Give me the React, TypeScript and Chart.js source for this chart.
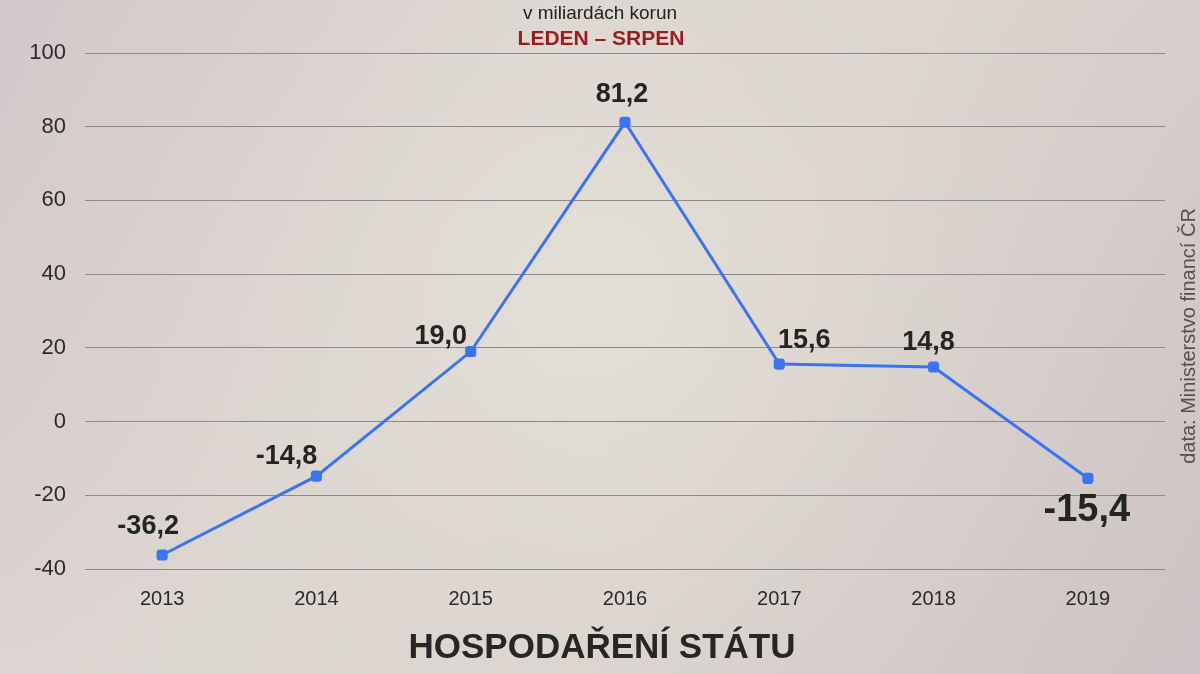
import React, { useEffect, useRef } from "react";
import { Chart, registerables } from "chart.js";

Chart.register(...registerables);

const years = ["2013", "2014", "2015", "2016", "2017", "2018", "2019"];
const balance = [-36.2, -14.8, 19.0, 81.2, 15.6, 14.8, -15.4];
const valueLabels = ["-36,2", "-14,8", "19,0", "81,2", "15,6", "14,8", "-15,4"];
const subtitle = "v miliardách korun";
const period = "LEDEN – SRPEN";
const mainTitle = "HOSPODAŘENÍ STÁTU";
const source = "data: Ministerstvo financí ČR";

// label placement (style): offsets from point in px, and font size
const labelDx = [-14, -30, -30, -3, 25, -5, -1];
const labelDy = [-28, -20, -15, -28, -24, -24, 32];
const labelSize = [27, 27, 27, 27, 27, 27, 38];

const FONT = "'Liberation Sans', Arial, sans-serif";

const decorPlugin = {
  id: "decor",
  beforeDraw(chart: any) {
    const { ctx, width, height } = chart;
    ctx.save();
    const g = ctx.createLinearGradient(0, 0, width, height);
    g.addColorStop(0, "#d4c9cb");
    g.addColorStop(0.35, "#dfdad3");
    g.addColorStop(0.6, "#ddd8d0");
    g.addColorStop(1, "#ccc3c4");
    ctx.fillStyle = g;
    ctx.fillRect(0, 0, width, height);
    const r = ctx.createRadialGradient(width * 0.5, height * 0.45, 50, width * 0.5, height * 0.45, 700);
    r.addColorStop(0, "rgba(230,226,216,0.55)");
    r.addColorStop(1, "rgba(200,190,192,0)");
    ctx.fillStyle = r;
    ctx.fillRect(0, 0, width, height);
    ctx.restore();
  },
  afterDraw(chart: any) {
    const { ctx } = chart;
    ctx.save();
    ctx.textAlign = "center";
    ctx.textBaseline = "middle";
    ctx.fillStyle = "#222";
    ctx.font = `19px ${FONT}`;
    ctx.fillText(subtitle, 600, 14);
    ctx.fillStyle = "#9a1c1c";
    ctx.font = `bold 21px ${FONT}`;
    ctx.fillText(period, 601, 39);
    ctx.fillStyle = "#262626";
    ctx.font = `bold 35px ${FONT}`;
    ctx.fillText(mainTitle, 602, 648);
    ctx.save();
    ctx.translate(1189, 336);
    ctx.rotate(-Math.PI / 2);
    ctx.fillStyle = "#555151";
    ctx.font = `20px ${FONT}`;
    ctx.fillText(source, 0, 0);
    ctx.restore();
    const meta = chart.getDatasetMeta(0);
    meta.data.forEach((pt: any, i: number) => {
      ctx.fillStyle = "#242424";
      ctx.font = `bold ${labelSize[i]}px ${FONT}`;
      ctx.fillText(valueLabels[i], pt.x + labelDx[i], pt.y + labelDy[i]);
    });
    ctx.restore();
  },
};

export default function App() {
  const ref = useRef<HTMLCanvasElement | null>(null);
  useEffect(() => {
    if (!ref.current) return;
    const chart = new Chart(ref.current, {
      type: "line",
      data: {
        labels: years,
        datasets: [
          {
            data: balance,
            borderColor: "#3b74f2",
            backgroundColor: "#3b74f2",
            borderWidth: 3,
            pointStyle: "rectRounded",
            pointRadius: 6.5,
            pointBorderWidth: 0,
            tension: 0,
          },
        ],
      },
      options: {
        animation: false,
        responsive: false,
        devicePixelRatio: 1,
        layout: { padding: { left: 0, right: 35, top: 53, bottom: 0 } },
        plugins: { legend: { display: false }, tooltip: { enabled: false } },
        scales: {
          x: {
            offset: true,
            grid: { display: false, drawTicks: false },
            border: { display: false },
            ticks: { color: "#2a2a2a", font: { family: FONT, size: 20 }, padding: 18 },
            afterFit(scale: any) {
              scale.height = 105;
            },
          },
          y: {
            min: -40,
            max: 100,
            ticks: { stepSize: 20, color: "#2a2a2a", font: { family: FONT, size: 22 }, padding: 19 },
            grid: { color: "#8f8a86", lineWidth: 1, drawTicks: false },
            border: { display: false },
            afterFit(scale: any) {
              scale.width = 85;
            },
          },
        },
      },
      plugins: [decorPlugin],
    });
    return () => chart.destroy();
  }, []);
  return (
    <div style={{ position: "fixed", left: 0, top: 0, width: 1200, height: 674 }}>
      <canvas ref={ref} width={1200} height={674} style={{ display: "block" }} />
    </div>
  );
}
